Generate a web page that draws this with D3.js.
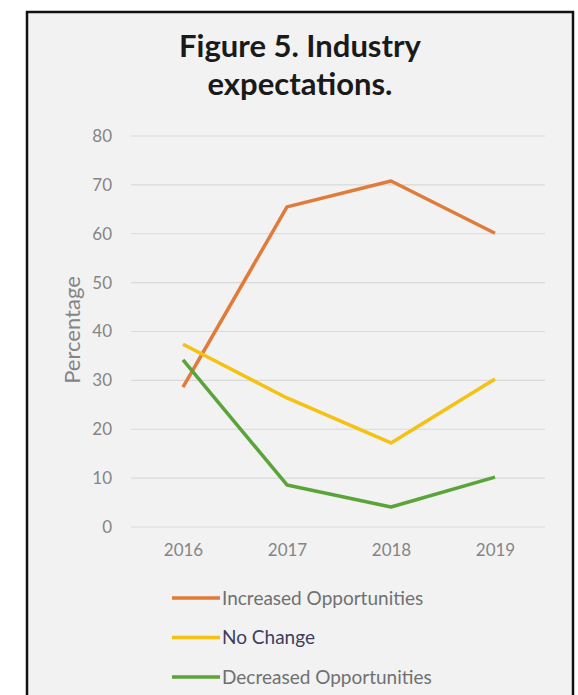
<!DOCTYPE html>
<html>
<head>
<meta charset="utf-8">
<script src="https://cdn.jsdelivr.net/npm/d3@7"></script>
<style>
  html, body { margin: 0; padding: 0; background: #fff; }
  svg { display: block; }
</style>
</head>
<body>
<div id="chart"></div>
<script>
// chart data
const years = ["2016", "2017", "2018", "2019"];
const seriesNames = ["Increased Opportunities", "No Change", "Decreased Opportunities"];
const increased = [28.6, 65.5, 70.8, 60.1];
const noChange = [37.4, 26.4, 17.2, 30.3];
const decreased = [34.2, 8.6, 4.1, 10.2];
const yTicks = [0, 10, 20, 30, 40, 50, 60, 70, 80];
const colors = ["#e07b39", "#f5c113", "#5aa43a"];

const width = 578, height = 695;
const font = "Lato, 'Open Sans', sans-serif";

const svg = d3.select("#chart").append("svg")
    .attr("width", width)
    .attr("height", height);

// frame
svg.append("rect")
    .attr("x", 27).attr("y", 12)
    .attr("width", 546).attr("height", 700)
    .attr("fill", "#f2f2f2")
    .attr("stroke", "#111")
    .attr("stroke-width", 2.5);

// title
const title = svg.append("text")
    .attr("text-anchor", "middle")
    .attr("font-family", font)
    .attr("font-weight", 700)
    .attr("font-size", "31px")
    .attr("fill", "#1a1a1a");
title.append("tspan").attr("x", 300).attr("y", 57).text("Figure 5. Industry");
title.append("tspan").attr("x", 300).attr("y", 95).text("expectations.");

const x = d3.scalePoint().domain(years).range([183, 495]);
const y = d3.scaleLinear().domain([0, 80]).range([527, 136]);

// gridlines
svg.append("g")
    .selectAll("line")
    .data(yTicks)
    .enter().append("line")
    .attr("x1", 131).attr("x2", 545)
    .attr("y1", d => y(d)).attr("y2", d => y(d))
    .attr("stroke", "#d9d9d9")
    .attr("stroke-width", 1.2);

// y axis
const yAxis = svg.append("g")
    .attr("transform", "translate(122,0)")
    .call(d3.axisLeft(y).tickValues(yTicks).tickSize(0).tickPadding(10));
yAxis.select(".domain").remove();
yAxis.selectAll("text")
    .attr("font-family", font)
    .attr("font-size", "17px")
    .attr("fill", "#858585");

// x axis
const xAxis = svg.append("g")
    .attr("transform", "translate(0,540)")
    .call(d3.axisBottom(x).tickSize(0).tickPadding(4));
xAxis.select(".domain").remove();
xAxis.selectAll("text")
    .attr("font-family", font)
    .attr("font-size", "17px")
    .attr("fill", "#858585");

// y label
svg.append("text")
    .attr("transform", "translate(72,330) rotate(-90)")
    .attr("text-anchor", "middle")
    .attr("dy", "0.35em")
    .attr("font-family", font)
    .attr("font-size", "22px")
    .attr("fill", "#858585")
    .text("Percentage");

// lines
const series = [increased, noChange, decreased];
const line = d3.line()
    .x((d, i) => x(years[i]))
    .y(d => y(d));

svg.append("g")
    .selectAll("path")
    .data(series)
    .enter().append("path")
    .attr("d", line)
    .attr("fill", "none")
    .attr("stroke", (d, i) => colors[i])
    .attr("stroke-width", 3.5)
    .attr("stroke-linejoin", "round");

// legend
const legend = svg.append("g")
    .selectAll("g")
    .data(seriesNames)
    .enter().append("g")
    .attr("transform", (d, i) => "translate(172," + (598 + i * 39.5) + ")");

legend.append("line")
    .attr("x1", 0).attr("x2", 48)
    .attr("stroke", (d, i) => colors[i])
    .attr("stroke-width", 3.5);

legend.append("text")
    .attr("x", 50)
    .attr("dy", "0.35em")
    .attr("font-family", font)
    .attr("font-size", "19px")
    .attr("fill", (d, i) => i === 1 ? "#3d3d5c" : "#707070")
    .text(d => d);
</script>
</body>
</html>
